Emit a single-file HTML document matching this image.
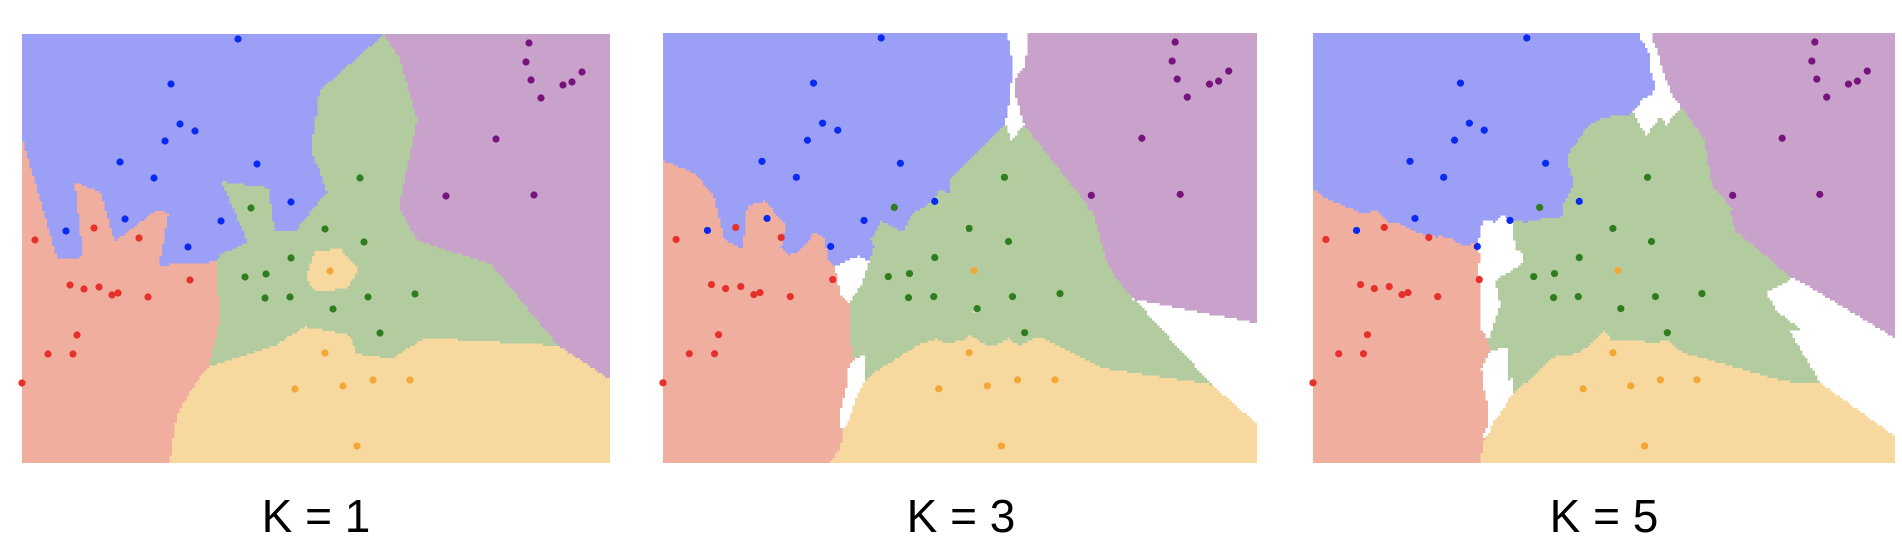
<!DOCTYPE html>
<html><head><meta charset="utf-8">
<style>
html,body{margin:0;padding:0;background:#fff;}
#wrap{position:relative;width:1902px;height:548px;overflow:hidden;font-family:"Liberation Sans",sans-serif;}
canvas.region{position:absolute;image-rendering:pixelated;}
svg{position:absolute;left:0;top:0;}
.lbl{position:absolute;top:488px;font-size:46px;color:#000;text-align:center;width:600px;line-height:56px;}
</style></head>
<body>
<div id="wrap">
<canvas class="region" id="c1"></canvas>
<canvas class="region" id="c2"></canvas>
<canvas class="region" id="c3"></canvas>
<svg id="pts" width="1902" height="548"></svg>
<div class="lbl" style="left:16px">K = 1</div>
<div class="lbl" style="left:661px">K = 3</div>
<div class="lbl" style="left:1304px">K = 5</div>
</div>
<script>
const kValues = [1, 3, 5];
const classNames = ["blue", "red", "green", "orange", "purple"];
const blueX = [238,171,180,195,165,120,154,257,125,66,221,188,291];
const blueY = [39,84,124,131,141,162,178,164,219,231,221,247,202];
const redX = [35,94,139,70,84,99,112,118,148,190,77,48,73,22];
const redY = [240,228,238,285,289,287,295,293,297,280,335,354,354,383];
const greenX = [251,245,266,265,360,325,364,291,290,333,368,415,380];
const greenY = [208,277,274,298,178,229,242,258,297,309,297,294,333];
const orangeX = [330,325,295,343,373,410,357];
const orangeY = [271,353,389,386,380,380,446];
const purpleX = [529,526,531,541,563,572,582,496,446,534];
const purpleY = [43,62,80,98,85,82,72,139,196,195];

const regionColors = [[155,159,245],[240,174,159],[178,204,160],[247,217,160],[200,162,203]];
const pointColors = ["#0a2af2","#e6302a","#2f7d1f","#f3a836","#76137c"];
const frames = [{x:22,y:34,w:588,h:429},{x:663,y:33,w:594,h:430},{x:1313,y:33,w:582,h:430}];
const D = {x0:22, y0:34, w:588, h:429};

const pts = [];
[[blueX,blueY],[redX,redY],[greenX,greenY],[orangeX,orangeY],[purpleX,purpleY]].forEach((a,c)=>{
  a[0].forEach((x,i)=>pts.push({x:x,y:a[1][i],c:c}));
});
function sx(f,x){return f.x + (x-D.x0)/D.w*f.w;}
function sy(f,y){return f.y + (y-D.y0)/D.h*f.h;}

function classify(x,y,k){
  const d = pts.map(p=>({d:(p.x-x)*(p.x-x)+(p.y-y)*(p.y-y),c:p.c})).sort((a,b)=>a.d-b.d);
  const cnt=[0,0,0,0,0];
  for(let i=0;i<k;i++)cnt[d[i].c]++;
  let best=-1,bc=-1,tie=false;
  cnt.forEach((v,c)=>{if(v>best){best=v;bc=c;tie=false;}else if(v===best)tie=true;});
  return tie?-1:bc;
}

const svg=document.getElementById('pts');
const NS='http://www.w3.org/2000/svg';
kValues.forEach((k,fi)=>{
  const f=frames[fi];
  const cv=document.getElementById('c'+(fi+1));
  const rw=Math.round(f.w/2.5), rh=Math.round(f.h/2.5);
  cv.width=rw;cv.height=rh;
  cv.style.left=f.x+'px';cv.style.top=f.y+'px';
  cv.style.width=f.w+'px';cv.style.height=f.h+'px';
  const ctx=cv.getContext('2d');
  const img=ctx.createImageData(rw,rh);
  for(let j=0;j<rh;j++)for(let i=0;i<rw;i++){
    const x=D.x0+(i+0.5)/rw*D.w, y=D.y0+(j+0.5)/rh*D.h;
    const c=classify(x,y,k);
    const col=c<0?[255,255,255]:regionColors[c];
    const o=(j*rw+i)*4;
    img.data[o]=col[0];img.data[o+1]=col[1];img.data[o+2]=col[2];img.data[o+3]=255;
  }
  ctx.putImageData(img,0,0);
  pts.forEach(p=>{
    const e=document.createElementNS(NS,'circle');
    e.setAttribute('cx',sx(f,p.x));
    e.setAttribute('cy',sy(f,p.y));
    e.setAttribute('r',3.6);
    e.setAttribute('fill',pointColors[p.c]);
    
    
    svg.appendChild(e);
  });
});
</script>
</body></html>
